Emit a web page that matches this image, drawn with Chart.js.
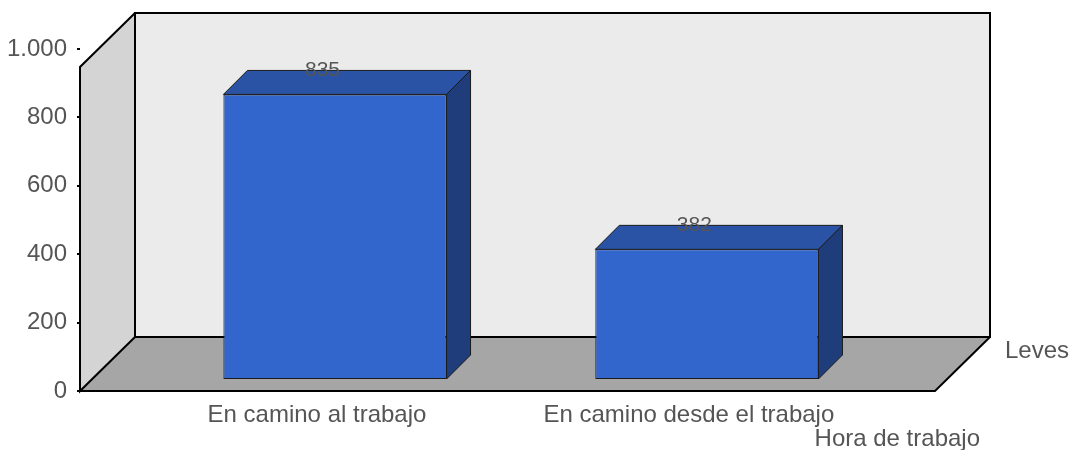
<!DOCTYPE html>
<html>
<head>
<meta charset="utf-8">
<script src="https://cdn.jsdelivr.net/npm/chart.js@4.4.1/dist/chart.umd.min.js"></script>
<style>
  html, body { margin: 0; padding: 0; background: #ffffff; }
  #wrap { width: 1070px; height: 450px; }
</style>
</head>
<body>
<div id="wrap"><canvas id="chart" width="1070" height="450"></canvas></div>
<script>
// ---- data ----
const categories = ['En camino al trabajo', 'En camino desde el trabajo'];
const seriesName = 'Leves';
const seriesValues = [835, 382];
const valueTicks = [0, 200, 400, 600, 800, 1000];
const categoryTitle = 'Hora de trabajo';

// ---- look ----
const FONT = "'Liberation Sans', Arial, Helvetica, sans-serif";
const TEXT = '#555555';
const AXIS_SIZE = 24;
const BOX = { dx: 55, dy: 54, frontTopInset: 18 };   // floor / wall depth
const BAR = { shift: 11, depth: 24 };                  // bar placement inside the box
const COLORS = {
  backWall: '#ebebeb', leftWall: '#d4d4d4', floor: '#a6a6a6',
  barFront: '#3366cc', barTop: '#2a53a5', barSide: '#203d7b', barEdge: '#1a1a1a'
};

const fmt = v => Number(v).toLocaleString('de-DE');

function poly(ctx, pts, fill, stroke, lw) {
  ctx.beginPath();
  ctx.moveTo(pts[0][0], pts[0][1]);
  for (let i = 1; i < pts.length; i++) ctx.lineTo(pts[i][0], pts[i][1]);
  ctx.closePath();
  if (fill) { ctx.fillStyle = fill; ctx.fill(); }
  if (stroke) { ctx.strokeStyle = stroke; ctx.lineWidth = lw || 1; ctx.stroke(); }
}

// Draws the 3D walls/floor behind the bars, the bar tops and sides, and the text labels.
const box3d = {
  id: 'box3d',
  beforeDatasetsDraw(chart) {
    const { ctx, chartArea: a } = chart;
    const L = a.left, R = a.right, B = a.bottom, T = a.top + BOX.frontTopInset;
    const dx = BOX.dx, dy = BOX.dy;
    ctx.save();
    ctx.lineJoin = 'miter';
    ctx.fillStyle = COLORS.backWall;
    ctx.fillRect(L + dx, T - dy, R - L, B - T);
    poly(ctx, [[L, B], [L, T], [L + dx, T - dy], [L + dx, B - dy]], COLORS.leftWall);
    poly(ctx, [[L, B], [L + dx, B - dy], [R + dx, B - dy], [R, B]], COLORS.floor);
    ctx.strokeStyle = '#000000';
    ctx.lineWidth = 2;
    ctx.strokeRect(L + dx, T - dy, R - L, B - T);
    ctx.beginPath();
    ctx.moveTo(L + dx, T - dy); ctx.lineTo(L, T); ctx.lineTo(L, B); ctx.lineTo(L + dx, B - dy);
    ctx.moveTo(L, B); ctx.lineTo(R, B); ctx.lineTo(R + dx, B - dy);
    ctx.stroke();
    ctx.restore();
    // bars sit part-way into the floor
    ctx.save();
    ctx.translate(BAR.shift, -BAR.shift);
  },
  afterDatasetsDraw(chart) {
    const ctx = chart.ctx;
    const meta = chart.getDatasetMeta(0);
    const d = BAR.depth;
    const tops = [];
    meta.data.forEach(bar => {
      const { x, y, base, width } = bar.getProps(['x', 'y', 'base', 'width'], true);
      const l = x - width / 2, r = x + width / 2;
      poly(ctx, [[l, y], [l + d, y - d], [r + d, y - d], [r, y]], COLORS.barTop, COLORS.barEdge, 1);
      poly(ctx, [[r, y], [r + d, y - d], [r + d, base - d], [r, base]], COLORS.barSide, COLORS.barEdge, 1);
      tops.push({ x: x + BAR.shift, y: y - BAR.shift });
    });
    ctx.restore();

    // value labels
    const values = chart.data.datasets[0].data;
    ctx.save();
    ctx.font = '21px ' + FONT;
    ctx.fillStyle = TEXT;
    ctx.textAlign = 'center';
    ctx.textBaseline = 'alphabetic';
    tops.forEach((p, i) => ctx.fillText(fmt(values[i].y), p.x - 12.5, p.y - 18));
    ctx.restore();
  },
  afterDraw(chart) {
    const { ctx, chartArea: a } = chart;
    ctx.save();
    ctx.font = AXIS_SIZE + 'px ' + FONT;
    ctx.fillStyle = TEXT;
    ctx.textBaseline = 'alphabetic';
    ctx.textAlign = 'left';
    ctx.fillText(chart.data.datasets[0].label, a.right + 70, a.bottom - 33);
    ctx.textAlign = 'right';
    ctx.fillText(categoryTitle, a.right + 45, a.bottom + 54.5);
    ctx.restore();
  }
};

new Chart(document.getElementById('chart'), {
  type: 'bar',
  data: {
    labels: categories,
    datasets: [{
      label: seriesName,
      data: seriesValues.map((v, i) => ({ x: i, y: v })),
      backgroundColor: COLORS.barFront,
      borderColor: COLORS.barEdge,
      borderWidth: 1,
      borderSkipped: false,
      categoryPercentage: 0.6,
      barPercentage: 1
    }]
  },
  options: {
    responsive: false,
    animation: false,
    devicePixelRatio: 1,
    layout: { padding: { left: 0, top: 49, right: 135, bottom: 0 } },
    plugins: { legend: { display: false }, tooltip: { enabled: false } },
    scales: {
      x: {
        type: 'linear',
        min: -0.656,
        max: 1.643,
        offset: false,
        afterBuildTicks: s => { s.ticks = categories.map((_, i) => ({ value: i })); },
        afterFit: s => { s.height = 59; },
        ticks: {
          callback: v => categories[v],
          font: { family: FONT, size: AXIS_SIZE },
          color: TEXT,
          padding: 2,
          labelOffset: -7,
          autoSkip: false,
          maxRotation: 0
        },
        grid: { display: false },
        border: { display: false }
      },
      y: {
        min: 0,
        max: 1000,
        afterBuildTicks: s => { s.ticks = valueTicks.map(v => ({ value: v })); },
        afterFit: s => { s.width = 80; },
        ticks: {
          callback: v => fmt(v),
          font: { family: FONT, size: AXIS_SIZE },
          color: TEXT,
          padding: 10
        },
        grid: { drawOnChartArea: false, drawTicks: true, tickLength: 3, color: '#000000', lineWidth: 2 },
        border: { display: false }
      }
    }
  },
  plugins: [box3d]
});
</script>
</body>
</html>
